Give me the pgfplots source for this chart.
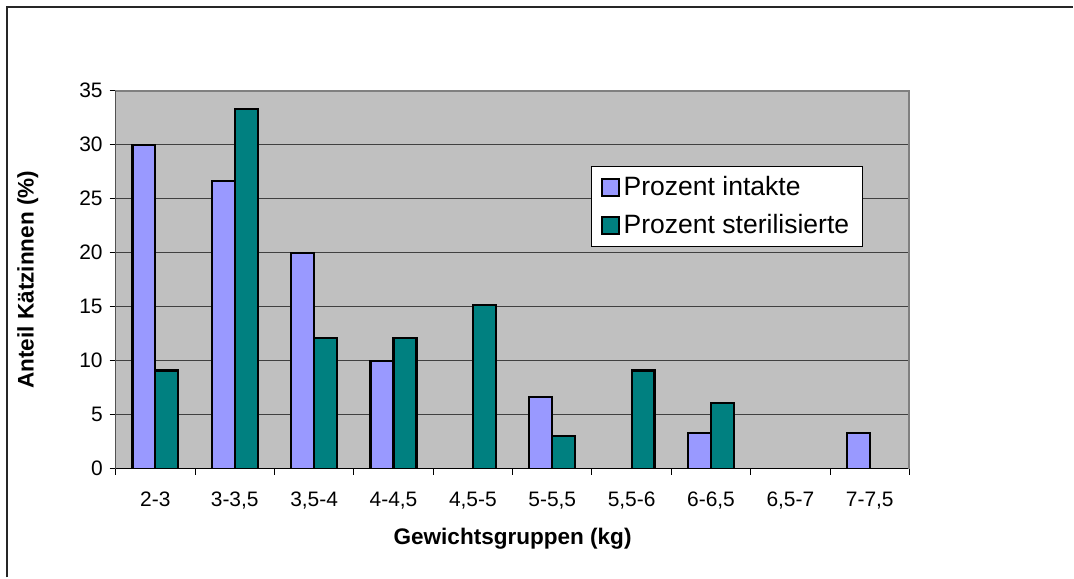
\documentclass[border=0pt]{standalone}
\usepackage{fontspec}
\setmainfont{Liberation Sans}
\usepackage{pgfplots}
\pgfplotsset{compat=1.18}

\definecolor{intakt}{HTML}{9999FF}
\definecolor{steril}{HTML}{008080}
\definecolor{plotbg}{HTML}{C0C0C0}

\begin{document}
\begin{tikzpicture}
% picture size 1074x577 px at 0.5pt per px
\path (0pt,0pt) rectangle (537pt,288.5pt);
\draw[line width=1pt, black!85] (3.5pt,-1pt) -- (3.5pt,284.8pt) -- (538pt,284.8pt);

\begin{axis}[
    at={(58pt,53.5pt)}, anchor=south west,
    scale only axis,
    width=398pt, height=189.5pt,
    xmin=0.5, xmax=10.5,
    ymin=0, ymax=35,
    ytick={0,5,...,35},
    xtick={0.5,1.5,...,10.5},
    xticklabels={2-3,3-3{,}5,3{,}5-4,4-4{,}5,4{,}5-5,5-5{,}5,5{,}5-6,6-6{,}5,6{,}5-7,7-7{,}5},
    x tick label as interval,
    tick pos=left,
    tick align=outside,
    major tick length=3pt,
    tick style={black, line width=0.5pt},
    ymajorgrids,
    grid style={black!75, line width=0.5pt},
    axis line style={draw=black!50, line width=0.8pt},
    axis background/.style={fill=plotbg},
    ybar=0pt,
    bar width=11.5pt,
    ticklabel style={font=\fontsize{10.5}{12}\selectfont},
    xticklabel style={yshift=-5pt},
    /pgf/number format/assume math mode=true,
    xlabel={\bfseries Gewichtsgruppen (kg)},
    ylabel={\bfseries Anteil Kätzinnen (\%)},
    label style={font=\fontsize{11.3}{13}\selectfont},
    xlabel style={at={(axis description cs:0.5,0)}, anchor=center, yshift=-35pt},
    ylabel style={at={(axis description cs:0,0.5)}, anchor=center, yshift=44pt},
    legend style={at={(rel axis cs:0.599,0.802)}, anchor=north west,
        draw=black, line width=0.6pt, fill=white,
        font=\fontsize{13.3}{16}\selectfont,
        inner xsep=4.5pt, inner ysep=3pt,
        row sep=4pt},
    legend cell align=left,
    legend image code/.code={\draw[#1, line width=1pt] (0pt,-4.2pt) rectangle (8.5pt,4.2pt);},
]
\addplot[draw=black, line width=1.1pt, fill=intakt] coordinates {
    (1,30) (2,26.67) (3,20) (4,10) (5,0) (6,6.67) (7,0) (8,3.33) (9,0) (10,3.33)
};
\addlegendentry{Prozent intakte}
\addplot[draw=black, line width=1.1pt, fill=steril] coordinates {
    (1,9.09) (2,33.33) (3,12.12) (4,12.12) (5,15.15) (6,3.03) (7,9.09) (8,6.06) (9,0) (10,0)
};
\addlegendentry{Prozent sterilisierte}
\draw[black, line width=0.6pt] (rel axis cs:0,1) -- (rel axis cs:0,0) -- (rel axis cs:1,0);
\draw[black!50, line width=1.5pt] (rel axis cs:1,0) -- (rel axis cs:1,1);
\end{axis}
\end{tikzpicture}
\end{document}
